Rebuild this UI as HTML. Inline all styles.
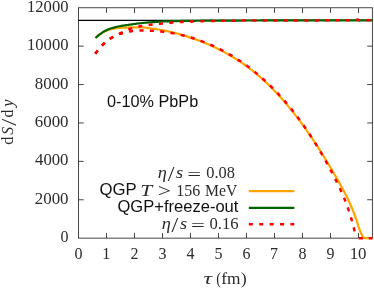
<!DOCTYPE html>
<html><head><meta charset="utf-8"><title>plot</title>
<style>
html,body{margin:0;padding:0;background:#fff;}
svg{display:block;will-change:transform;}
text{font-size:16px;fill:#2b2b2b;}
.serif{font-family:"Liberation Serif",serif;}
.sans{font-family:"Liberation Sans",sans-serif;fill:#111;}
.it{font-style:italic;}
</style></head><body>
<svg width="374" height="290" viewBox="0 0 374 290">
<rect width="374" height="290" fill="#fff"/>
<g fill="none">
<path d="M106.5,238.15 v-5.2 M106.5,7.75 v5.2 M134.5,238.15 v-5.2 M134.5,7.75 v5.2 M162.5,238.15 v-5.2 M162.5,7.75 v5.2 M190.5,238.15 v-5.2 M190.5,7.75 v5.2 M218.5,238.15 v-5.2 M218.5,7.75 v5.2 M246.5,238.15 v-5.2 M246.5,7.75 v5.2 M274.5,238.15 v-5.2 M274.5,7.75 v5.2 M302.5,238.15 v-5.2 M302.5,7.75 v5.2 M330.5,238.15 v-5.2 M330.5,7.75 v5.2 M358.5,238.15 v-5.2 M358.5,7.75 v5.2 M78.5,199.75 h5.2 M372.4,199.75 h-5.2 M78.5,161.35 h5.2 M372.4,161.35 h-5.2 M78.5,122.95 h5.2 M372.4,122.95 h-5.2 M78.5,84.55 h5.2 M372.4,84.55 h-5.2 M78.5,46.15 h5.2 M372.4,46.15 h-5.2" stroke="#333" stroke-width="0.9"/>
<rect x="78.5" y="7.75" width="293.90" height="230.40" stroke="#333" stroke-width="0.9"/>
<path d="M78.5,20.4 H372.4" stroke="#000" stroke-width="1.3"/>
<path d="M95.50,38.00 L96.69,36.93 L97.92,35.90 L99.18,34.93 L100.48,34.02 L101.81,33.12 L103.18,32.28 L104.59,31.53 L106.03,30.90 L107.52,30.33 L109.04,29.80 L110.58,29.35 L112.13,28.97 L113.68,28.66 L115.26,28.39 L116.84,28.15 L118.43,27.95 L120.02,27.82 L121.61,27.73 L123.20,27.65 L124.79,27.59 L126.39,27.53 L127.98,27.49 L129.58,27.46 L131.17,27.45 L132.77,27.43 L134.37,27.42 L135.96,27.41 L137.56,27.41 L139.15,27.40 L140.74,27.40 L142.33,27.42 L143.92,27.52 L145.51,27.69 L147.10,27.89 L148.68,28.10 L150.27,28.30 L151.85,28.50 L153.43,28.72 L155.01,28.95 L156.58,29.20 L158.16,29.45 L159.73,29.72 L161.30,30.01 L162.86,30.30 L164.43,30.61 L165.99,30.93 L167.55,31.26 L169.11,31.61 L170.66,31.96 L172.21,32.33 L173.76,32.71 L175.31,33.10 L176.85,33.50 L178.39,33.91 L179.93,34.34 L181.47,34.77 L183.00,35.22 L184.52,35.67 L186.05,36.14 L187.57,36.62 L189.09,37.11 L190.60,37.61 L192.11,38.12 L193.62,38.64 L195.12,39.18 L196.62,39.72 L198.12,40.27 L199.61,40.84 L201.10,41.42 L202.58,42.00 L204.06,42.60 L205.53,43.21 L207.00,43.83 L208.47,44.46 L209.93,45.10 L211.38,45.75 L212.83,46.42 L214.28,47.09 L215.72,47.78 L217.15,48.47 L218.58,49.18 L220.00,49.90 L221.42,50.63 L222.83,51.37 L224.24,52.12 L225.64,52.89 L227.04,53.66 L228.42,54.45 L229.80,55.24 L231.18,56.05 L232.55,56.87 L233.91,57.70 L235.26,58.54 L236.61,59.40 L237.95,60.26 L239.28,61.14 L240.61,62.02 L241.93,62.92 L243.24,63.83 L244.54,64.75 L245.84,65.68 L247.13,66.62 L248.41,67.57 L249.68,68.53 L250.94,69.50 L252.20,70.48 L253.45,71.48 L254.69,72.48 L255.92,73.49 L257.15,74.51 L258.36,75.54 L259.57,76.58 L260.77,77.63 L261.97,78.69 L263.15,79.76 L264.33,80.83 L265.50,81.92 L266.66,83.01 L267.81,84.11 L268.96,85.22 L270.10,86.34 L271.23,87.46 L272.35,88.59 L273.47,89.73 L274.58,90.88 L275.68,92.03 L276.78,93.19 L277.86,94.36 L278.94,95.53 L280.02,96.71 L281.08,97.89 L282.14,99.08 L283.20,100.28 L284.24,101.49 L285.29,102.69 L286.32,103.91 L287.35,105.13 L288.37,106.35 L289.38,107.58 L290.39,108.82 L291.39,110.06 L292.39,111.30 L293.38,112.55 L294.37,113.81 L295.35,115.06 L296.32,116.33 L297.29,117.59 L298.25,118.87 L299.21,120.14 L300.16,121.42 L301.11,122.70 L302.06,123.99 L302.99,125.28 L303.93,126.57 L304.85,127.87 L305.78,129.17 L306.69,130.47 L307.61,131.78 L308.52,133.09 L309.42,134.40 L310.32,135.72 L311.22,137.04 L312.11,138.36 L313.00,139.69 L313.88,141.01 L314.76,142.35 L315.64,143.68 L316.51,145.01 L317.38,146.35 L318.24,147.69 L319.10,149.04 L319.96,150.38 L320.81,151.73 L321.66,153.08 L322.50,154.43 L323.35,155.78 L324.19,157.14 L325.02,158.50 L325.86,159.86 L326.68,161.22 L327.51,162.58 L328.33,163.95 L329.16,165.32 L329.97,166.69 L330.79,168.06 L331.60,169.43 L332.41,170.80 L333.21,172.18 L334.02,173.56 L334.82,174.94 L335.62,176.32 L336.41,177.70 L337.21,179.08 L337.99,180.47 L338.78,181.86 L339.56,183.25 L340.34,184.64 L341.11,186.03 L341.88,187.43 L342.64,188.84 L343.39,190.24 L344.14,191.65 L344.88,193.06 L345.61,194.48 L346.33,195.90 L347.04,197.33 L347.74,198.77 L348.42,200.21 L349.10,201.65 L349.77,203.10 L350.42,204.55 L351.06,206.02 L351.68,207.48 L352.30,208.95 L352.90,210.43 L353.49,211.91 L354.06,213.40 L354.62,214.89 L355.17,216.39 L355.71,217.89 L356.24,219.40 L356.75,220.91 L357.25,222.42 L357.72,223.95 L358.18,225.48 L358.65,227.00 L359.17,228.51 L359.73,230.00 L360.32,231.49 L360.94,232.96 L361.61,234.41 L362.31,235.90 L363.10,237.33 L364.42,238.06 L365.99,238.15 L367.55,238.15 L369.14,238.15 L370.75,238.15 L372.40,238.15" stroke="#ffa500" stroke-width="2.2" stroke-linejoin="round"/>
<path d="M95.50,38.00 L96.36,37.20 L97.24,36.42 L98.14,35.66 L99.05,34.92 L99.98,34.21 L100.92,33.52 L101.88,32.83 L102.86,32.16 L103.86,31.54 L104.87,30.97 L105.91,30.46 L106.97,29.97 L108.06,29.51 L109.16,29.08 L110.27,28.68 L111.39,28.31 L112.51,27.96 L113.63,27.63 L114.76,27.33 L115.90,27.04 L117.04,26.77 L118.19,26.52 L119.34,26.28 L120.49,26.06 L121.65,25.86 L122.80,25.67 L123.96,25.49 L125.12,25.32 L126.28,25.16 L127.45,25.00 L128.61,24.84 L129.77,24.68 L130.94,24.52 L132.10,24.35 L133.26,24.18 L134.42,24.01 L135.58,23.84 L136.74,23.68 L137.91,23.52 L139.07,23.37 L140.23,23.23 L141.40,23.10 L142.56,22.98 L143.73,22.87 L144.90,22.76 L146.07,22.66 L147.24,22.56 L148.41,22.47 L149.58,22.38 L150.75,22.29 L151.92,22.21 L153.09,22.12 L154.26,22.04 L155.43,21.95 L156.60,21.87 L157.77,21.79 L158.94,21.71 L160.11,21.64 L161.28,21.57 L162.45,21.51 L163.62,21.46 L164.79,21.41 L165.97,21.37 L167.14,21.32 L168.31,21.29 L169.48,21.25 L170.65,21.21 L171.83,21.18 L173.00,21.14 L174.17,21.11 L175.35,21.08 L176.52,21.06 L177.69,21.03 L178.86,21.00 L180.04,20.98 L181.21,20.96 L182.38,20.94 L183.56,20.92 L184.73,20.90 L185.90,20.89 L187.07,20.87 L188.25,20.86 L189.42,20.84 L190.59,20.83 L191.76,20.82 L192.94,20.80 L194.11,20.79 L195.28,20.78 L196.46,20.77 L197.63,20.75 L198.80,20.74 L199.98,20.73 L201.15,20.72 L202.32,20.71 L203.49,20.70 L204.67,20.69 L205.84,20.68 L207.01,20.67 L208.19,20.67 L209.36,20.66 L210.53,20.65 L211.70,20.64 L212.88,20.64 L214.05,20.63 L215.22,20.62 L216.40,20.62 L217.57,20.61 L218.74,20.61 L219.92,20.60 L221.09,20.60 L222.26,20.59 L223.43,20.59 L224.61,20.58 L225.78,20.58 L226.95,20.57 L228.13,20.57 L229.30,20.56 L230.47,20.56 L231.64,20.56 L232.82,20.55 L233.99,20.55 L235.16,20.54 L236.34,20.54 L237.51,20.54 L238.68,20.53 L239.86,20.53 L241.03,20.53 L242.20,20.52 L243.37,20.52 L244.55,20.52 L245.72,20.51 L246.89,20.51 L248.07,20.51 L249.24,20.50 L250.41,20.50 L251.59,20.50 L252.76,20.49 L253.93,20.49 L255.10,20.49 L256.28,20.48 L257.45,20.48 L258.62,20.48 L259.80,20.48 L260.97,20.47 L262.14,20.47 L263.31,20.47 L264.49,20.47 L265.66,20.46 L266.83,20.46 L268.01,20.46 L269.18,20.46 L270.35,20.45 L271.53,20.45 L272.70,20.45 L273.87,20.45 L275.04,20.44 L276.22,20.44 L277.39,20.44 L278.56,20.44 L279.74,20.44 L280.91,20.43 L282.08,20.43 L283.26,20.43 L284.43,20.43 L285.60,20.43 L286.77,20.42 L287.95,20.42 L289.12,20.42 L290.29,20.42 L291.47,20.42 L292.64,20.41 L293.81,20.41 L294.98,20.41 L296.16,20.41 L297.33,20.40 L298.50,20.40 L299.68,20.40 L300.85,20.40 L302.02,20.40 L303.20,20.39 L304.37,20.39 L305.54,20.39 L306.71,20.39 L307.89,20.39 L309.06,20.38 L310.23,20.38 L311.41,20.38 L312.58,20.38 L313.75,20.38 L314.93,20.37 L316.10,20.37 L317.27,20.37 L318.44,20.37 L319.62,20.37 L320.79,20.36 L321.96,20.36 L323.14,20.36 L324.31,20.36 L325.48,20.36 L326.65,20.36 L327.83,20.35 L329.00,20.35 L330.17,20.35 L331.35,20.35 L332.52,20.35 L333.69,20.35 L334.87,20.34 L336.04,20.34 L337.21,20.34 L338.38,20.34 L339.56,20.34 L340.73,20.34 L341.90,20.33 L343.08,20.33 L344.25,20.33 L345.42,20.33 L346.59,20.33 L347.77,20.33 L348.94,20.32 L350.11,20.32 L351.29,20.32 L352.46,20.32 L353.63,20.32 L354.81,20.32 L355.98,20.32 L357.15,20.32 L358.32,20.31 L359.50,20.31 L360.67,20.31 L361.84,20.31 L363.02,20.31 L364.19,20.31 L365.36,20.31 L366.54,20.31 L367.71,20.30 L368.88,20.30 L370.05,20.30 L371.23,20.30 L372.40,20.30" stroke="#006400" stroke-width="2.2" stroke-linejoin="round"/>
<path d="M95.30,53.70 L96.22,52.40 L97.16,51.13 L98.14,49.89 L99.15,48.68 L100.18,47.51 L101.24,46.36 L102.33,45.25 L103.43,44.17 L104.57,43.11 L105.75,42.06 L106.96,41.03 L108.21,40.04 L109.48,39.11 L110.77,38.24 L112.09,37.45 L113.45,36.71 L114.86,36.01 L116.30,35.36 L117.76,34.75 L119.24,34.19 L120.72,33.69 L122.20,33.23 L123.71,32.80 L125.23,32.40 L126.76,32.03 L128.30,31.70 L129.84,31.43 L131.39,31.21 L132.95,31.04 L134.51,30.90 L136.07,30.78 L137.63,30.67 L139.20,30.60 L140.77,30.54 L142.33,30.51 L143.90,30.50 L145.46,30.51 L147.03,30.53 L148.60,30.57 L150.16,30.63 L151.73,30.70 L153.29,30.79 L154.85,30.89 L156.42,31.01 L157.98,31.14 L159.54,31.29 L161.09,31.46 L162.65,31.64 L164.20,31.83 L165.76,32.04 L167.31,32.26 L168.86,32.50 L170.40,32.75 L171.94,33.02 L173.49,33.30 L175.02,33.60 L176.56,33.91 L178.09,34.24 L179.62,34.58 L181.15,34.93 L182.67,35.30 L184.19,35.68 L185.70,36.08 L187.22,36.49 L188.72,36.91 L190.23,37.35 L191.73,37.80 L193.22,38.27 L194.72,38.74 L196.20,39.24 L197.69,39.74 L199.16,40.26 L200.64,40.79 L202.11,41.34 L203.57,41.89 L205.03,42.47 L206.48,43.05 L207.93,43.65 L209.37,44.26 L210.81,44.88 L212.24,45.51 L213.67,46.16 L215.09,46.82 L216.51,47.49 L217.92,48.18 L219.32,48.87 L220.72,49.58 L222.11,50.30 L223.49,51.03 L224.87,51.78 L226.24,52.53 L227.61,53.30 L228.97,54.08 L230.32,54.87 L231.67,55.67 L233.01,56.48 L234.34,57.30 L235.67,58.13 L236.99,58.98 L238.30,59.83 L239.60,60.70 L240.90,61.57 L242.20,62.46 L243.48,63.36 L244.76,64.26 L246.03,65.18 L247.29,66.11 L248.55,67.04 L249.80,67.99 L251.04,68.94 L252.27,69.91 L253.50,70.88 L254.72,71.86 L255.93,72.85 L257.14,73.85 L258.34,74.86 L259.53,75.88 L260.71,76.90 L261.89,77.94 L263.06,78.98 L264.22,80.03 L265.38,81.09 L266.52,82.15 L267.67,83.23 L268.80,84.31 L269.92,85.40 L271.04,86.50 L272.15,87.60 L273.26,88.71 L274.36,89.83 L275.45,90.95 L276.53,92.09 L277.60,93.22 L278.67,94.37 L279.73,95.52 L280.79,96.68 L281.84,97.84 L282.88,99.02 L283.91,100.19 L284.94,101.38 L285.96,102.56 L286.97,103.76 L287.98,104.96 L288.98,106.16 L289.97,107.38 L290.96,108.59 L291.94,109.82 L292.91,111.04 L293.88,112.28 L294.84,113.51 L295.79,114.76 L296.74,116.00 L297.68,117.25 L298.62,118.51 L299.55,119.77 L300.47,121.04 L301.38,122.31 L302.29,123.58 L303.20,124.86 L304.10,126.15 L304.99,127.43 L305.88,128.73 L306.76,130.02 L307.63,131.32 L308.50,132.62 L309.36,133.93 L310.22,135.24 L311.07,136.56 L311.92,137.87 L312.76,139.19 L313.60,140.52 L314.43,141.85 L315.26,143.18 L316.08,144.51 L316.89,145.85 L317.70,147.19 L318.51,148.53 L319.31,149.88 L320.11,151.23 L320.90,152.58 L321.69,153.93 L322.47,155.29 L323.25,156.65 L324.02,158.01 L324.79,159.38 L325.56,160.74 L326.32,162.11 L327.07,163.49 L327.82,164.86 L328.57,166.24 L329.32,167.61 L330.06,169.00 L330.79,170.38 L331.53,171.76 L332.25,173.15 L332.98,174.54 L333.70,175.93 L334.42,177.32 L335.13,178.72 L335.84,180.11 L336.54,181.52 L337.23,182.92 L337.92,184.33 L338.60,185.74 L339.28,187.15 L339.94,188.57 L340.60,189.99 L341.25,191.41 L341.89,192.84 L342.52,194.28 L343.14,195.72 L343.75,197.16 L344.35,198.61 L344.93,200.06 L345.50,201.52 L346.07,202.98 L346.62,204.45 L347.16,205.92 L347.69,207.40 L348.20,208.87 L348.71,210.36 L349.20,211.84 L349.68,213.34 L350.16,214.83 L350.62,216.33 L351.07,217.83 L351.51,219.33 L351.94,220.83 L352.37,222.34 L352.79,223.85 L353.19,225.37 L353.58,226.89 L353.95,228.41 L354.31,229.93 L354.65,231.46 L354.98,232.99 L355.30,234.52 L355.61,236.06 L355.90,237.60" stroke="#ff0000" stroke-width="2.5" stroke-dasharray="4.1 6.3" stroke-linejoin="round"/>
<path d="M95.30,53.70 L96.00,52.70 L96.72,51.72 L97.45,50.76 L98.20,49.81 L98.97,48.89 L99.76,47.98 L100.56,47.09 L101.38,46.22 L102.21,45.37 L103.05,44.54 L103.91,43.72 L104.80,42.92 L105.71,42.13 L106.63,41.35 L107.58,40.59 L108.54,39.86 L109.52,39.15 L110.51,38.46 L111.50,37.81 L112.51,37.19 L113.55,36.60 L114.60,36.04 L115.68,35.50 L116.76,34.98 L117.85,34.47 L118.95,33.96 L120.04,33.45 L121.13,32.94 L122.21,32.41 L123.29,31.88 L124.37,31.34 L125.45,30.81 L126.54,30.30 L127.64,29.81 L128.74,29.36 L129.86,28.95 L130.99,28.57 L132.13,28.21 L133.28,27.87 L134.44,27.54 L135.61,27.23 L136.78,26.94 L137.95,26.67 L139.13,26.42 L140.30,26.20 L141.48,26.00 L142.66,25.81 L143.85,25.63 L145.04,25.47 L146.23,25.32 L147.42,25.17 L148.61,25.02 L149.81,24.88 L151.00,24.74 L152.19,24.60 L153.38,24.47 L154.58,24.35 L155.77,24.22 L156.96,24.10 L158.16,23.98 L159.35,23.86 L160.54,23.75 L161.74,23.62 L162.93,23.50 L164.13,23.38 L165.32,23.26 L166.51,23.13 L167.71,23.02 L168.90,22.90 L170.10,22.79 L171.29,22.68 L172.49,22.58 L173.68,22.49 L174.88,22.41 L176.08,22.33 L177.27,22.25 L178.47,22.18 L179.67,22.11 L180.86,22.03 L182.06,21.96 L183.26,21.90 L184.46,21.83 L185.66,21.77 L186.85,21.70 L188.05,21.64 L189.25,21.59 L190.45,21.53 L191.65,21.48 L192.85,21.43 L194.05,21.38 L195.25,21.34 L196.45,21.30 L197.65,21.26 L198.84,21.23 L200.04,21.20 L201.24,21.17 L202.44,21.14 L203.64,21.12 L204.84,21.09 L206.04,21.06 L207.24,21.04 L208.44,21.01 L209.64,20.99 L210.84,20.97 L212.04,20.94 L213.23,20.92 L214.43,20.90 L215.63,20.88 L216.83,20.86 L218.03,20.84 L219.23,20.82 L220.43,20.80 L221.63,20.79 L222.83,20.77 L224.03,20.75 L225.23,20.74 L226.43,20.72 L227.63,20.71 L228.83,20.69 L230.03,20.68 L231.23,20.67 L232.43,20.66 L233.63,20.65 L234.83,20.64 L236.03,20.63 L237.23,20.62 L238.43,20.61 L239.63,20.60 L240.83,20.60 L242.03,20.59 L243.23,20.58 L244.43,20.58 L245.63,20.57 L246.83,20.56 L248.03,20.56 L249.23,20.55 L250.43,20.55 L251.63,20.54 L252.82,20.54 L254.02,20.53 L255.22,20.53 L256.42,20.52 L257.62,20.52 L258.82,20.51 L260.02,20.51 L261.22,20.50 L262.42,20.50 L263.62,20.50 L264.82,20.49 L266.02,20.49 L267.22,20.48 L268.42,20.48 L269.62,20.48 L270.82,20.47 L272.02,20.47 L273.22,20.47 L274.42,20.46 L275.62,20.46 L276.82,20.46 L278.02,20.45 L279.22,20.45 L280.42,20.45 L281.62,20.44 L282.82,20.44 L284.02,20.44 L285.22,20.44 L286.42,20.43 L287.62,20.43 L288.82,20.43 L290.02,20.42 L291.22,20.42 L292.41,20.42 L293.61,20.42 L294.81,20.41 L296.01,20.41 L297.21,20.41 L298.41,20.40 L299.61,20.40 L300.81,20.40 L302.01,20.40 L303.21,20.39 L304.42,20.39 L305.62,20.39 L306.82,20.39 L308.02,20.39 L309.22,20.38 L310.43,20.38 L311.63,20.38 L312.83,20.38 L314.04,20.38 L315.24,20.38 L316.44,20.38 L317.65,20.38 L318.85,20.37 L320.06,20.37 L321.26,20.37 L322.46,20.37 L323.67,20.37 L324.87,20.37 L326.07,20.37 L327.27,20.37 L328.48,20.37 L329.68,20.36 L330.88,20.36 L332.08,20.36 L333.28,20.36 L334.48,20.36 L335.68,20.35 L336.88,20.35 L338.08,20.35 L339.28,20.35 L340.47,20.34 L341.67,20.34 L342.87,20.34 L344.06,20.33 L345.25,20.33 L346.45,20.33 L347.64,20.32 L348.83,20.32 L350.02,20.31 L351.21,20.30 L352.40,20.28 L353.59,20.08 L354.78,19.78 L355.95,19.50 L357.11,19.40 L358.24,19.74 L359.35,20.35 L360.47,20.83 L361.63,20.84 L362.81,20.58 L364.00,20.40 L365.19,20.37 L366.39,20.35 L367.58,20.33 L368.78,20.32 L369.98,20.31 L371.19,20.30 L372.40,20.30" stroke="#ff0000" stroke-width="2.5" stroke-dasharray="4.1 6.3" stroke-linejoin="round"/>
<path d="M358.8,238.15 H372.4" stroke="#ff0000" stroke-width="2.5" stroke-dasharray="4.1 5.9"/>
<path d="M248.8,191.1 H294.3" stroke="#ffa500" stroke-width="2.2"/>
<path d="M248.8,207.8 H294.3" stroke="#006400" stroke-width="2.2"/>
<path d="M248.8,224.3 H294.3" stroke="#ff0000" stroke-width="2.5" stroke-dasharray="4.1 6.3"/>
</g>
<g>
<text class="serif" transform="translate(60.45,242.15) scale(1.000,1.000)">0</text>
<text class="serif" transform="translate(34.77,203.75) scale(1.055,1.000)">2000</text>
<text class="serif" transform="translate(35.04,165.35) scale(1.046,1.000)">4000</text>
<text class="serif" transform="translate(34.77,126.95) scale(1.055,1.000)">6000</text>
<text class="serif" transform="translate(34.77,88.55) scale(1.055,1.000)">8000</text>
<text class="serif" transform="translate(27.00,50.15) scale(1.038,1.000)">10000</text>
<text class="serif" transform="translate(27.00,11.75) scale(1.038,1.000)">12000</text>
<text class="serif" transform="translate(74.50,258.80) scale(1.000,1.000)">0</text>
<text class="serif" transform="translate(102.25,258.80) scale(1.000,1.000)">1</text>
<text class="serif" transform="translate(130.62,258.80) scale(1.000,1.000)">2</text>
<text class="serif" transform="translate(158.38,258.80) scale(1.000,1.000)">3</text>
<text class="serif" transform="translate(186.50,258.80) scale(1.000,1.000)">4</text>
<text class="serif" transform="translate(214.38,258.80) scale(1.000,1.000)">5</text>
<text class="serif" transform="translate(242.38,258.80) scale(1.000,1.000)">6</text>
<text class="serif" transform="translate(270.12,258.80) scale(1.000,1.000)">7</text>
<text class="serif" transform="translate(298.50,258.80) scale(1.000,1.000)">8</text>
<text class="serif" transform="translate(326.50,258.80) scale(1.000,1.000)">9</text>
<text class="serif" transform="translate(349.68,258.80) scale(1.053,1.000)">10</text>
<text class="sans" transform="translate(106.99,107.20) scale(1.016,1.030)">0-10% PbPb</text>
<text class="serif it" transform="translate(157.83,178.40) scale(1.143,1.000)">η</text>
<text class="serif" transform="translate(167.70,181.26) scale(1.511,1.364)">/</text>
<text class="serif it" transform="translate(176.10,178.40) scale(1.148,1.000)">s</text>
<text class="serif" transform="translate(187.15,180.49) scale(1.533,1.012)">=</text>
<text class="serif" transform="translate(206.29,178.40) scale(1.022,1.000)">0.08</text>
<text class="sans" transform="translate(99.51,195.15) scale(1.049,1.030)">QGP</text>
<text class="serif it" transform="translate(140.36,195.55) scale(1.344,1.052)">T</text>
<text class="serif" transform="translate(157.80,197.40) scale(1.471,1.200)">&gt;</text>
<text class="serif" transform="translate(176.35,195.55) scale(1.000,1.000)">156</text>
<text class="serif" transform="translate(205.05,195.55) scale(0.982,1.000)">MeV</text>
<text class="sans" transform="translate(117.42,212.00) scale(1.035,1.030)">QGP+freeze-out</text>
<text class="serif it" transform="translate(161.63,229.30) scale(1.143,1.000)">η</text>
<text class="serif" transform="translate(171.50,232.16) scale(1.511,1.364)">/</text>
<text class="serif it" transform="translate(179.90,229.30) scale(1.148,1.000)">s</text>
<text class="serif" transform="translate(190.95,231.39) scale(1.533,1.012)">=</text>
<text class="serif" transform="translate(209.38,229.30) scale(1.042,1.000)">0.16</text>
<text class="serif it" transform="translate(203.43,283.70) scale(1.483,1.000)">τ</text>
<text class="serif" transform="translate(216.26,283.97) scale(0.889,1.064)">(</text>
<text class="serif" transform="translate(221.23,283.70) scale(1.085,1.000)">fm</text>
<text class="serif" transform="translate(240.97,283.97) scale(1.059,1.064)">)</text>
<text class="serif" transform="translate(12.9,144.3) rotate(-90) translate(-0.51,0.00) scale(1.013,1.000)">d</text>
<text class="serif it" transform="translate(12.9,144.3) rotate(-90) translate(9.50,0.00) scale(0.981,1.000)">S</text>
<text class="serif" transform="translate(12.9,144.3) rotate(-90) translate(18.60,3.46) scale(1.600,1.345)">/</text>
<text class="serif" transform="translate(12.9,144.3) rotate(-90) translate(26.82,0.00) scale(0.960,1.000)">d</text>
<text class="serif it" transform="translate(12.9,144.3) rotate(-90) translate(37.54,0.00) scale(1.029,1.000)">y</text>
</g>
</svg>
</body></html>
